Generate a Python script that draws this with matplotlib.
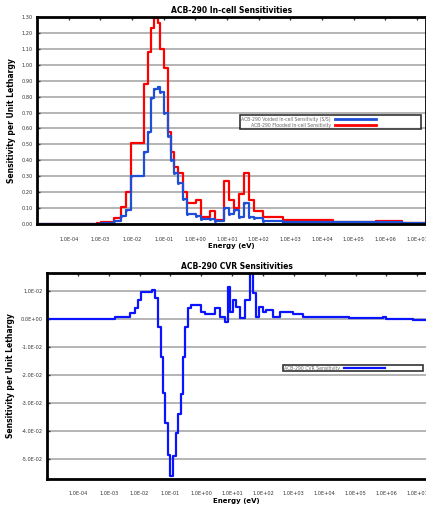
import matplotlib
matplotlib.use("Agg")
import matplotlib.pyplot as plt
from matplotlib.ticker import FixedLocator, FuncFormatter

# in-cell sensitivities, group edges (eV) and values per group
edges_incell = [1e-5, 7.6e-4, 1.07e-3, 2.8e-3, 4.6e-3, 6.6e-3, 9.4e-3, 0.0245, 0.0316, 0.040,
                0.049, 0.065, 0.078, 0.104, 0.133, 0.17, 0.215, 0.275, 0.395, 0.565,
                1.02, 1.47, 3.0, 4.3, 7.9, 11.4, 16.3, 23.5, 33.9, 48,
                69, 142, 600, 2.2e4, 5.1e5, 3.5e6, 2e7]
sens_voided = [0, 0.002, 0.008, 0.02, 0.05, 0.09, 0.30, 0.45, 0.58, 0.79,
               0.85, 0.86, 0.83, 0.70, 0.55, 0.40, 0.32, 0.26, 0.16, 0.06,
               0.05, 0.03, 0.03, 0.02, 0.10, 0.06, 0.09, 0.047, 0.13, 0.045,
               0.04, 0.02, 0.015, 0.012, 0.015, 0.005]
sens_flooded = [0, 0.008, 0.015, 0.036, 0.11, 0.20, 0.51, 0.88, 1.08, 1.23,
                1.295, 1.26, 1.10, 0.98, 0.58, 0.45, 0.36, 0.32, 0.20, 0.13,
                0.15, 0.047, 0.08, 0.025, 0.27, 0.15, 0.10, 0.19, 0.32, 0.15,
                0.08, 0.045, 0.025, 0.013, 0.02, 0.005]

# CVR sensitivity
edges_cvr = [1e-5, 1.58e-3, 4.8e-3, 6.9e-3, 8.9e-3, 0.0115, 0.0245, 0.031, 0.040, 0.051,
             0.058, 0.069, 0.083, 0.10, 0.122, 0.148, 0.176, 0.215, 0.255, 0.305,
             0.37, 0.48, 1.0, 1.29, 2.7, 3.95, 5.7, 7.3, 8.7, 10.6,
             13.7, 17.5, 25.3, 36.8, 47, 60, 77, 100, 127, 208,
             345, 940, 1960, 6.3e4, 7.6e5, 9.8e5, 7.1e6, 2e7]
sens_cvr = [0, 0.0008, 0.002, 0.0038, 0.0068, 0.0098, 0.0104, 0.0074, -0.0027, -0.0135,
            -0.0265, -0.0373, -0.0486, -0.0563, -0.049, -0.041, -0.034, -0.027, -0.0135, -0.0027,
            0.0038, 0.005, 0.0026, 0.0018, 0.0038, 0.0008, -0.001, 0.0115, 0.0026, 0.0068,
            0.0044, 0.0002, 0.0068, 0.019, 0.0092, 0.0008, 0.0044, 0.0026, 0.0032, 0.0008,
            0.0026, 0.0018, 0.0008, 0.0002, 0.0008, 0.0, -0.0004]

xtick_vals = [1e-4, 1e-3, 1e-2, 1e-1, 1e0, 1e1, 1e2, 1e3, 1e4, 1e5, 1e6, 1e7]
ytick_incell = [i * 0.1 for i in range(14)]
ytick_cvr = [0.01, 0.0, -0.01, -0.02, -0.03, -0.04, -0.05]

label_voided = "ACB-290 Voided In-cell Sensitivity (S/S)"
label_flooded = "ACB-290 Flooded In-cell Sensitivity"
label_cvr = "ACB-290 CVR Sensitivity"


def steps(ax, edges, vals, color, **kw):
    ax.step(edges, list(vals) + [vals[-1]], where="post", color=color, lw=1.6, **kw)


def style(ax, title):
    ax.set_xscale("log")
    ax.set_xlim(1e-5, 2e7)
    ax.xaxis.set_major_locator(FixedLocator(xtick_vals))
    ax.xaxis.set_minor_locator(FixedLocator([]))
    ax.xaxis.set_major_formatter(FuncFormatter(lambda v, p: "%.1E" % v))
    ax.tick_params(axis="x", direction="in", top=True, bottom=False, labelbottom=True,
                   length=2, width=1, labelsize=3.6, pad=9, colors="#333333")
    ax.tick_params(axis="y", direction="in", length=2, width=1, labelsize=3.6, pad=3, colors="#333333")
    ax.grid(axis="y", color="#b4b4b4", lw=1.4)
    ax.grid(axis="x", visible=False)
    ax.set_axisbelow(True)
    for s in ax.spines.values():
        s.set_linewidth(2)
        s.set_color("black")
    ax.set_title(title, fontsize=5.5, fontweight="bold", pad=3)
    ax.set_xlabel("Energy (eV)", fontsize=5, fontweight="bold", labelpad=1)
    ax.set_ylabel("Sensitivity per Unit Lethargy", fontsize=5.5, fontweight="bold", labelpad=4)


fig = plt.figure(figsize=(4.27, 5.08), dpi=100)

ax1 = fig.add_axes([0.0867, 0.559, 0.912, 0.4075])
steps(ax1, edges_incell, sens_flooded, "#ff0000", label=label_flooded)
steps(ax1, edges_incell, sens_voided, "#1f4fd6", marker="o", markersize=1.2, label=label_voided)
ax1.set_ylim(0, 1.3)
ax1.yaxis.set_major_locator(FixedLocator(ytick_incell))
ax1.yaxis.set_major_formatter(FuncFormatter(lambda v, p: "%.2f" % v))
style(ax1, "ACB-290 In-cell Sensitivities")
h, l = ax1.get_legend_handles_labels()
leg1 = ax1.legend(h[::-1], l[::-1], loc="center", bbox_to_anchor=(0.515, 0.454, 0.477, 0.077),
                  mode="expand", markerfirst=False, fontsize=3.3, frameon=True, fancybox=False,
                  borderpad=0.3, handlelength=9, labelspacing=0.2, labelcolor="#666666")
leg1.get_frame().set_edgecolor("black")
leg1.get_frame().set_linewidth(1.2)
for ln in leg1.get_lines():
    ln.set_marker("")
    ln.set_linewidth(2)

ax2 = fig.add_axes([0.110, 0.0571, 0.889, 0.4055])
steps(ax2, edges_cvr, sens_cvr, "#0a14ff", label=label_cvr)
ax2.set_ylim(-0.0573, 0.0165)
ax2.yaxis.set_major_locator(FixedLocator(ytick_cvr))
ax2.yaxis.set_major_formatter(FuncFormatter(lambda v, p: "%.1E" % v))
style(ax2, "ACB-290 CVR Sensitivities")
leg2 = ax2.legend(loc="center", bbox_to_anchor=(0.616, 0.519, 0.38, 0.039), mode="expand",
                  markerfirst=False, fontsize=3.3, frameon=True, fancybox=False,
                  borderpad=0.2, handlelength=9, labelcolor="#666666")
leg2.get_frame().set_edgecolor("black")
leg2.get_frame().set_linewidth(1.2)

fig.savefig("out.png", dpi=100)
